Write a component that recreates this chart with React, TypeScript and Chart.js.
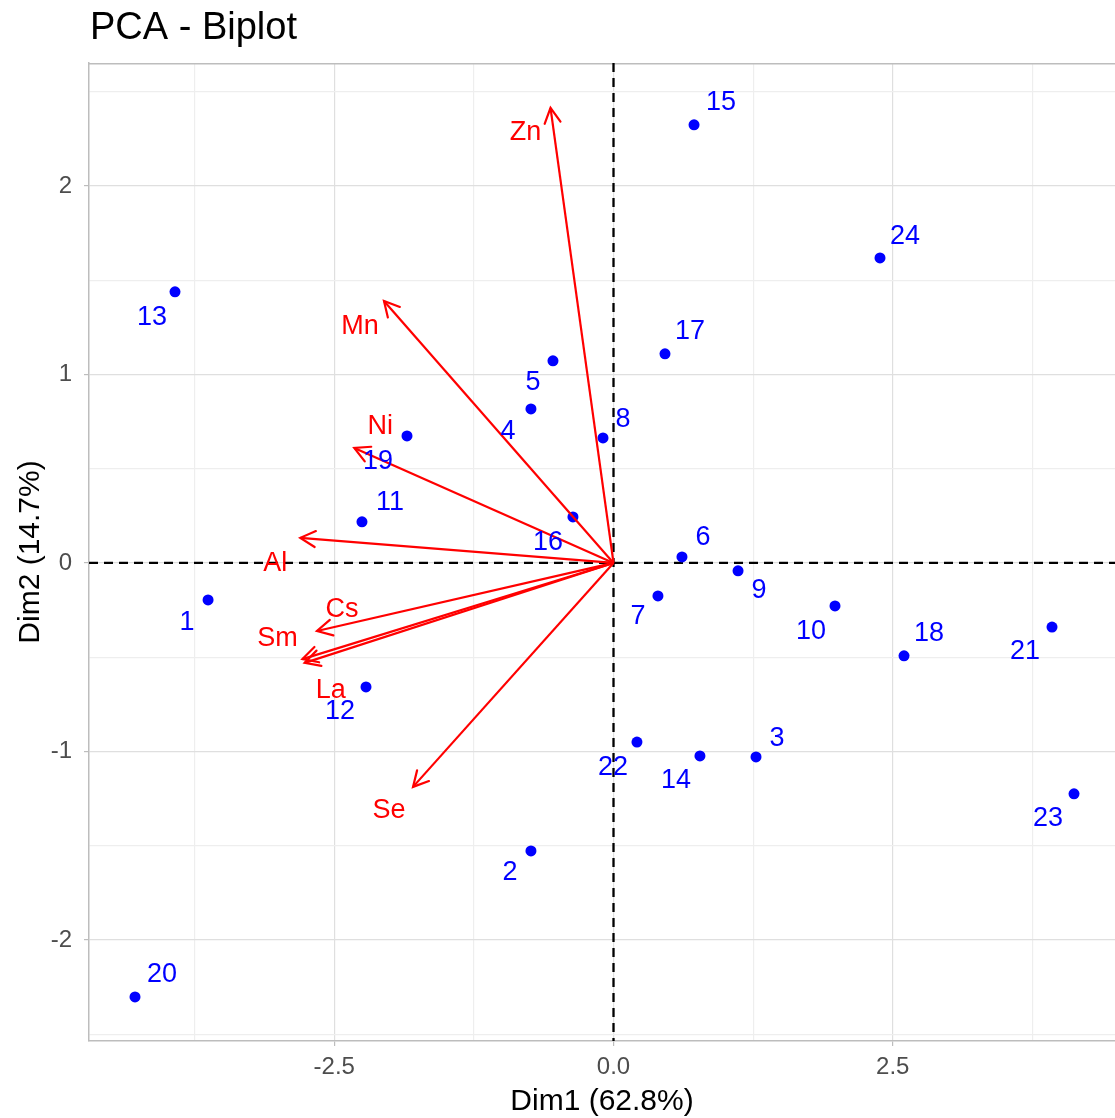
import React, { useEffect, useRef } from "react";
import { Chart, registerables } from "chart.js";

Chart.register(...registerables);

// ---- data ----
const IND_LABELS = ["1", "2", "3", "4", "5", "6", "7", "8", "9", "10", "11", "12", "13", "14", "15", "16", "17", "18", "19", "20", "21", "22", "23", "24"];
const IND_X = [-3.63, -0.739, 1.276, -0.739, -0.542, 0.613, 0.398, -0.094, 1.115, 1.983, -2.252, -2.216, -3.926, 0.774, 0.721, -0.363, 0.461, 2.601, -1.849, -4.284, 3.926, 0.21, 4.123, 2.386];
const IND_Y = [-0.196, -1.528, -1.029, 0.817, 1.072, 0.032, -0.175, 0.663, -0.042, -0.228, 0.218, -0.658, 1.438, -1.024, 2.324, 0.244, 1.109, -0.493, 0.674, -2.302, -0.34, -0.95, -1.225, 1.618];

const VAR_LABELS = ["Zn", "Mn", "Ni", "Al", "Cs", "Sm", "La", "Se"];
const VAR_X = [-0.564, -2.055, -2.321, -2.804, -2.655, -2.785, -2.765, -1.795];
const VAR_Y = [2.414, 1.39, 0.61, 0.133, -0.361, -0.51, -0.53, -1.188];

const X_TICKS = [-3.75, -2.5, -1.25, 0, 1.25, 2.5, 3.75];
const X_TICK_LABELS = ["", "-2.5", "", "0.0", "", "2.5", ""];
const Y_TICKS = [-2.5, -2, -1.5, -1, -0.5, 0, 0.5, 1, 1.5, 2, 2.5];
const Y_TICK_LABELS = ["", "-2", "", "-1", "", "0", "", "1", "", "2", ""];

const TITLE = "PCA - Biplot";
const X_TITLE = "Dim1 (62.8%)";
const Y_TITLE = "Dim2 (14.7%)";

// ---- styling (label offsets in px, not data) ----
const IND_LABEL_OFFSETS: [number, number][] = [
  [-21, 23], [-21, 22], [21, -18], [-23, 23], [-20, 22], [21, -19], [-20, 21], [20, -18],
  [21, 20], [-24, 26], [28, -19], [-26, 25], [-23, 26], [-24, 25], [27, -22], [-25, 26],
  [25, -22], [25, -22], [-29, 26], [27, -22], [-27, 25], [-24, 26], [-26, 25], [25, -21],
];
const VAR_LABEL_OFFSETS: [number, number][] = [
  [-25, 25], [-24, 26], [26, -21], [-25, 26], [25, -21], [-25, -21], [26, 28], [-24, 24],
];

const FONT = "'Liberation Sans', Arial, Helvetica, sans-serif";
const BLUE = "#0000FF";
const RED = "#FF0000";
const BORDER = "#BDBDBD";
const GRID_MAJOR = "#DFDFDF";
const GRID_MINOR = "#EEEEEE";

const isMajor = (v: number, step: number) => Math.abs(v / step - Math.round(v / step)) < 1e-6;

const biplotPlugin = {
  id: "biplot",
  beforeDatasetsDraw(chart: any) {
    const { ctx, chartArea: a, scales } = chart;
    const xs = scales.x, ys = scales.y;
    ctx.save();
    ctx.strokeStyle = BORDER;
    ctx.lineWidth = 1.5;
    ctx.beginPath();
    ctx.moveTo(a.left, a.top + 0.75);
    ctx.lineTo(a.right, a.top + 0.75);
    ctx.stroke();
    ctx.setLineDash([9, 6]);
    ctx.strokeStyle = "#000000";
    ctx.lineWidth = 2.3;
    const x0 = xs.getPixelForValue(0);
    const y0 = ys.getPixelForValue(0);
    ctx.beginPath();
    ctx.moveTo(a.left, y0);
    ctx.lineTo(a.right, y0);
    ctx.stroke();
    ctx.beginPath();
    ctx.moveTo(x0, a.top);
    ctx.lineTo(x0, a.bottom);
    ctx.stroke();
    ctx.restore();
  },
  afterDatasetsDraw(chart: any) {
    const { ctx, scales } = chart;
    const xs = scales.x, ys = scales.y;
    ctx.save();
    const ox = xs.getPixelForValue(0), oy = ys.getPixelForValue(0);
    ctx.strokeStyle = RED;
    ctx.lineWidth = 2.2;
    ctx.lineCap = "round";
    for (let i = 0; i < VAR_X.length; i++) {
      const tx = xs.getPixelForValue(VAR_X[i]);
      const ty = ys.getPixelForValue(VAR_Y[i]);
      const ang = Math.atan2(ty - oy, tx - ox);
      const len = 17, spread = (28 * Math.PI) / 180;
      ctx.beginPath();
      ctx.moveTo(tx - len * Math.cos(ang - spread), ty - len * Math.sin(ang - spread));
      ctx.lineTo(tx, ty);
      ctx.lineTo(tx - len * Math.cos(ang + spread), ty - len * Math.sin(ang + spread));
      ctx.stroke();
    }
    ctx.textAlign = "center";
    ctx.textBaseline = "middle";
    ctx.font = `27px ${FONT}`;
    ctx.fillStyle = BLUE;
    for (let i = 0; i < IND_X.length; i++) {
      const px = xs.getPixelForValue(IND_X[i]);
      const py = ys.getPixelForValue(IND_Y[i]);
      const [dx, dy] = IND_LABEL_OFFSETS[i];
      ctx.fillText(IND_LABELS[i], px + dx, py + dy);
    }
    ctx.fillStyle = RED;
    for (let i = 0; i < VAR_X.length; i++) {
      const px = xs.getPixelForValue(VAR_X[i]);
      const py = ys.getPixelForValue(VAR_Y[i]);
      const [dx, dy] = VAR_LABEL_OFFSETS[i];
      ctx.fillText(VAR_LABELS[i], px + dx, py + dy);
    }
    ctx.restore();
  },
  afterDraw(chart: any) {
    const { ctx, chartArea: a } = chart;
    ctx.save();
    ctx.fillStyle = "#000000";
    ctx.textBaseline = "alphabetic";
    ctx.textAlign = "left";
    ctx.font = `38px ${FONT}`;
    ctx.fillText(TITLE, 90, 39);
    ctx.textAlign = "center";
    ctx.font = `30px ${FONT}`;
    ctx.fillText(X_TITLE, (a.left + a.right) / 2, 1110);
    ctx.translate(31, (a.top + a.bottom) / 2);
    ctx.rotate(-Math.PI / 2);
    ctx.textBaseline = "middle";
    ctx.fillText(Y_TITLE, 0, 0);
    ctx.restore();
  },
};

export default function App() {
  const canvasRef = useRef<HTMLCanvasElement | null>(null);

  useEffect(() => {
    document.body.style.margin = "0";
    const canvas = canvasRef.current;
    if (!canvas) return;

    const datasets: any[] = [
      {
        label: "individuals",
        data: IND_X.map((x, i) => ({ x, y: IND_Y[i] })),
        backgroundColor: BLUE,
        borderColor: BLUE,
        pointRadius: 5.5,
        pointBorderWidth: 0,
        showLine: false,
        order: 2,
      },
      ...VAR_X.map((vx, i) => ({
        label: VAR_LABELS[i],
        data: [
          { x: 0, y: 0 },
          { x: vx, y: VAR_Y[i] },
        ],
        showLine: true,
        borderColor: RED,
        borderWidth: 2.2,
        pointRadius: 0,
        fill: false,
        order: 1,
      })),
    ];

    const chart = new Chart(canvas, {
      type: "scatter",
      data: { datasets },
      options: {
        responsive: false,
        animation: false,
        devicePixelRatio: 1,
        layout: { autoPadding: false, padding: { top: 63, left: 0, right: 0, bottom: 0 } },
        plugins: {
          legend: { display: false },
          title: { display: false },
          tooltip: { enabled: false },
        },
        scales: {
          x: {
            type: "linear",
            min: -4.696,
            max: 4.49,
            afterFit: (s: any) => {
              s.height = 77;
              s.paddingLeft = 0;
              s.paddingRight = 0;
            },
            afterBuildTicks: (s: any) => {
              s.ticks = X_TICKS.map((v) => ({ value: v }));
            },
            ticks: {
              autoSkip: false,
              maxRotation: 0,
              padding: 7,
              color: "#4D4D4D",
              font: { family: FONT, size: 24 },
              callback: (v: any) => {
                const idx = X_TICKS.findIndex((t) => Math.abs(t - Number(v)) < 1e-6);
                return idx >= 0 ? X_TICK_LABELS[idx] : "";
              },
            },
            grid: {
              color: (c: any) => (isMajor(c.tick?.value ?? 0, 2.5) ? GRID_MAJOR : GRID_MINOR),
              tickColor: (c: any) => (isMajor(c.tick?.value ?? 0, 2.5) ? BORDER : "rgba(0,0,0,0)"),
              lineWidth: 1.2,
              tickLength: 5,
              drawTicks: true,
            },
            border: { display: true, color: BORDER, width: 1.5 },
          },
          y: {
            type: "linear",
            min: -2.536,
            max: 2.652,
            afterFit: (s: any) => {
              s.width = 89;
              s.paddingTop = 0;
              s.paddingBottom = 0;
            },
            afterBuildTicks: (s: any) => {
              s.ticks = Y_TICKS.map((v) => ({ value: v }));
            },
            ticks: {
              autoSkip: false,
              padding: 12,
              color: "#4D4D4D",
              font: { family: FONT, size: 24 },
              callback: (v: any) => {
                const idx = Y_TICKS.findIndex((t) => Math.abs(t - Number(v)) < 1e-6);
                return idx >= 0 ? Y_TICK_LABELS[idx] : "";
              },
            },
            grid: {
              color: (c: any) => (isMajor(c.tick?.value ?? 0, 1) ? GRID_MAJOR : GRID_MINOR),
              tickColor: (c: any) => (isMajor(c.tick?.value ?? 0, 1) ? BORDER : "rgba(0,0,0,0)"),
              lineWidth: 1.2,
              tickLength: 5,
              drawTicks: true,
            },
            border: { display: true, color: BORDER, width: 1.5 },
          },
        },
      } as any,
      plugins: [biplotPlugin],
    });

    return () => {
      chart.destroy();
    };
  }, []);

  return (
    <div style={{ width: 1115, height: 1118, background: "#ffffff" }}>
      <canvas ref={canvasRef} width={1115} height={1118} style={{ display: "block" }} />
    </div>
  );
}
